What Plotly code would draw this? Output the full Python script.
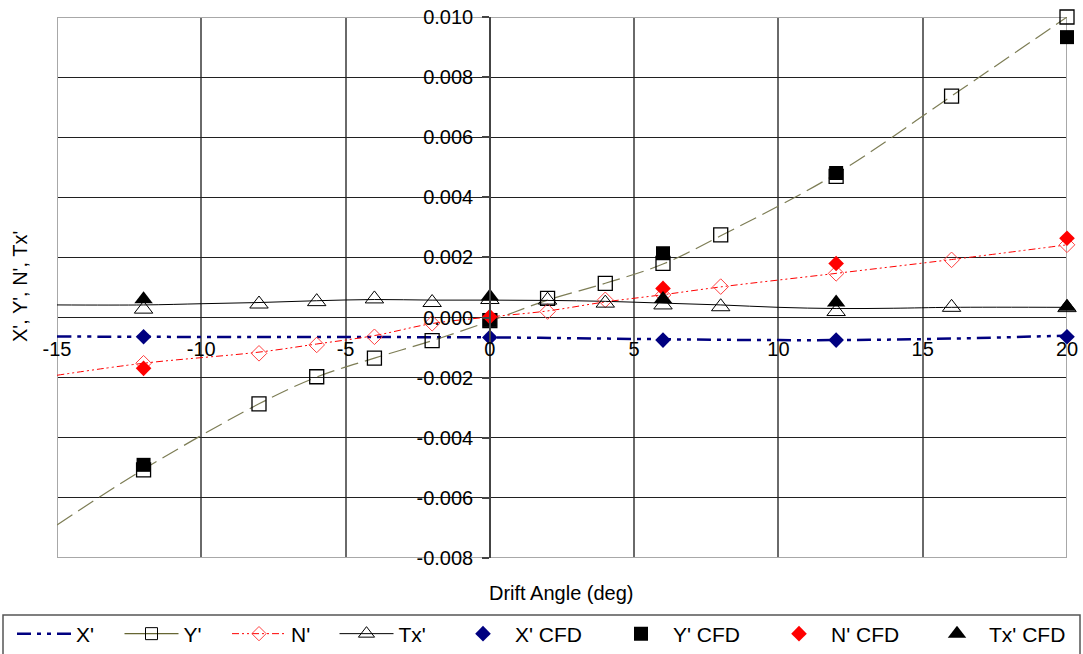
import plotly.graph_objects as go

# ---------------- data ----------------
X_TICKS = [-15, -10, -5, 0, 5, 10, 15, 20]
X_TICK_LABELS = ["-15", "-10", "-5", "0", "5", "10", "15", "20"]
Y_TICKS = [-0.008, -0.006, -0.004, -0.002, 0.0, 0.002, 0.004, 0.006, 0.008, 0.010]
Y_TICK_LABELS = ["-0.008", "-0.006", "-0.004", "-0.002", "0.000",
                 "0.002", "0.004", "0.006", "0.008", "0.010"]

# experimental (open markers)
EXP_X = [-12, -8, -6, -4, -2, 0, 2, 4, 6, 8, 12, 16, 20]
Y_EXP = [-0.00507, -0.00287, -0.00197, -0.00135, -0.00077, -0.00010, 0.00064,
         0.00114, 0.00180, 0.00275, 0.00470, 0.00737, 0.01000]
N_EXP = [-0.00152, -0.00119, -0.00091, -0.00064, -0.00019, 0.00000, 0.00020,
         0.00059, 0.00075, 0.00103, 0.00147, 0.00192, 0.00242]
TX_EXP = [0.00028, 0.00045, 0.00053, 0.00062, 0.00050, 0.00060, 0.00058,
          0.00048, 0.00042, 0.00036, 0.00020, 0.00034, 0.00033]

# experimental curves (as drawn in the reference)
X_LINE_X = [-15, -12, -8, -4, 0, 4, 8, 12, 16, 20]
X_LINE = [-0.00063, -0.00064, -0.00065, -0.00065, -0.00066, -0.00070,
          -0.00074, -0.00075, -0.00070, -0.00060]
Y_LINE_X = [-15, -12, -8, -6, -4, -2, 0, 2, 4, 6, 8, 12, 16, 20]
Y_LINE = [-0.00690, -0.00505, -0.00287, -0.00198, -0.00135, -0.00077, -0.00012,
          0.00058, 0.00114, 0.00178, 0.00272, 0.00478, 0.00737, 0.01000]
N_LINE_X = [-15, -12, -8, -6, -4, -2, 0, 2, 4, 6, 8, 12, 16, 20]
N_LINE = [-0.00192, -0.00152, -0.00115, -0.00088, -0.00060, -0.00020, 0.00002,
          0.00022, 0.00052, 0.00076, 0.00102, 0.00147, 0.00193, 0.00242]
TX_LINE_X = [-15, -12, -10, -8, -6, -4, -2, 0, 2, 4, 6, 8, 10, 12, 14, 16, 20]
TX_LINE = [0.00042, 0.00042, 0.00046, 0.00050, 0.00056, 0.00060, 0.00058,
           0.00058, 0.00057, 0.00054, 0.00048, 0.00042, 0.00034, 0.00030,
           0.00031, 0.00034, 0.00034]

# CFD (filled markers)
CFD_X = [-12, 0, 6, 12, 20]
X_CFD = [-0.00064, -0.00066, -0.00075, -0.00075, -0.00064]
Y_CFD = [-0.00490, -0.00008, 0.00214, 0.00481, 0.00933]
N_CFD = [-0.00169, 0.00003, 0.00097, 0.00180, 0.00264]
TX_CFD = [0.00061, 0.00070, 0.00062, 0.00050, 0.00036]

# ---------------- styling ----------------
FONT = "Liberation Sans, Arial, sans-serif"
NAVY = "#000080"
OLIVE = "#7d7d55"
RED = "#ff0000"
X_DASH = "14px,6px,4px,6px,4px,6px"
N_DASH = "7px,3px,2px,3px,2px,3px"
Y_DASH = "18px,7px"

fig = go.Figure()

# curves
fig.add_trace(go.Scatter(x=X_LINE_X, y=X_LINE, mode="lines", line_shape="spline",
                         line=dict(color=NAVY, width=2.5, dash=X_DASH),
                         showlegend=False, hoverinfo="skip"))
fig.add_trace(go.Scatter(x=Y_LINE_X, y=Y_LINE, mode="lines", line_shape="spline",
                         line=dict(color=OLIVE, width=1.2, dash=Y_DASH),
                         showlegend=False, hoverinfo="skip"))
fig.add_trace(go.Scatter(x=N_LINE_X, y=N_LINE, mode="lines", line_shape="spline",
                         line=dict(color=RED, width=1, dash=N_DASH),
                         showlegend=False, hoverinfo="skip"))
fig.add_trace(go.Scatter(x=TX_LINE_X, y=TX_LINE, mode="lines", line_shape="spline",
                         line=dict(color="#000000", width=1),
                         showlegend=False, hoverinfo="skip"))

# experimental markers
fig.add_trace(go.Scatter(x=EXP_X, y=Y_EXP, mode="markers", showlegend=False, cliponaxis=False,
                         marker=dict(symbol="square-open", size=14, color="#000000",
                                     line=dict(width=1.3))))
fig.add_trace(go.Scatter(x=EXP_X, y=N_EXP, mode="markers", showlegend=False, cliponaxis=False,
                         marker=dict(symbol="diamond-open", size=12, color="#ff4040",
                                     line=dict(width=1))))
fig.add_trace(go.Scatter(x=EXP_X, y=TX_EXP, mode="markers", showlegend=False, cliponaxis=False,
                         marker=dict(symbol="triangle-up-open", size=16, color="#000000",
                                     line=dict(width=1))))

# legend entries for experimental series
fig.add_trace(go.Scatter(x=[None], y=[None], mode="lines", name="X'", legend="legend",
                         line=dict(color=NAVY, width=2.5, dash=X_DASH)))
fig.add_trace(go.Scatter(x=[None], y=[None], mode="lines+markers", name="Y'", legend="legend",
                         line=dict(color="#666633", width=1.2),
                         marker=dict(symbol="square-open", size=12, color="#000000",
                                     line=dict(width=1))))
fig.add_trace(go.Scatter(x=[None], y=[None], mode="lines+markers", name="N'", legend="legend",
                         line=dict(color=RED, width=1, dash=N_DASH),
                         marker=dict(symbol="diamond-open", size=11, color="#ff4040",
                                     line=dict(width=1))))
fig.add_trace(go.Scatter(x=[None], y=[None], mode="lines+markers", name="Tx'", legend="legend",
                         line=dict(color="#000000", width=1),
                         marker=dict(symbol="triangle-up-open", size=14, color="#000000",
                                     line=dict(width=1))))

# CFD
fig.add_trace(go.Scatter(x=CFD_X, y=X_CFD, mode="markers", name="X' CFD", legend="legend2",
                         cliponaxis=False, marker=dict(symbol="diamond", size=12, color=NAVY)))
fig.add_trace(go.Scatter(x=CFD_X, y=Y_CFD, mode="markers", name="Y' CFD", legend="legend2",
                         cliponaxis=False, marker=dict(symbol="square", size=14, color="#000000")))
fig.add_trace(go.Scatter(x=CFD_X, y=N_CFD, mode="markers", name="N' CFD", legend="legend2",
                         cliponaxis=False, marker=dict(symbol="diamond", size=12, color=RED)))
fig.add_trace(go.Scatter(x=CFD_X, y=TX_CFD, mode="markers", name="Tx' CFD", legend="legend2",
                         cliponaxis=False, marker=dict(symbol="triangle-up", size=16, color="#000000")))

L, R, T, B = 57, 16, 17, 96
W, H = 1083, 654
PW, PH = W - L - R, H - T - B


def px_x(px):
    return (px - L) / PW


def px_y(py):
    return (H - B - py) / PH


fig.update_layout(
    width=W, height=H, autosize=False,
    margin=dict(l=L, r=R, t=T, b=B, autoexpand=False),
    paper_bgcolor="white", plot_bgcolor="white",
    font=dict(family=FONT, size=20, color="#000000"),
    xaxis=dict(range=[-15, 20], tickvals=X_TICKS, ticktext=X_TICK_LABELS,
               showgrid=True, gridcolor="#6a6a6a", gridwidth=1.5,
               zeroline=False, showline=False, ticks="",
               anchor="free", position=px_y(317.6), ticklabelstandoff=17,
               tickfont=dict(size=20), automargin=False),
    yaxis=dict(range=[-0.008, 0.010], tickvals=Y_TICKS, ticktext=Y_TICK_LABELS,
               showgrid=True, gridcolor="#202020", gridwidth=1,
               zeroline=False, showline=True, linecolor="#444444", linewidth=1.5,
               ticks="outside", ticklen=7, tickwidth=1.5, tickcolor="#444444",
               anchor="free", position=px_x(490), tickfont=dict(size=20),
               ticklabelstandoff=5, automargin=False),
    legend=dict(orientation="h", x=px_x(12), xanchor="left", y=px_y(634), yanchor="middle",
                font=dict(size=21), itemwidth=54, entrywidth=38.5,
                bgcolor="rgba(0,0,0,0)", borderwidth=0, tracegroupgap=0),
    legend2=dict(orientation="h", x=px_x(451), xanchor="left", y=px_y(634), yanchor="middle",
                 font=dict(size=21), itemwidth=54, entrywidth=89,
                 bgcolor="rgba(0,0,0,0)", borderwidth=0),
    shapes=[
        dict(type="rect", xref="x", yref="y", x0=-15, x1=20, y0=-0.008, y1=0.010,
             line=dict(color="#a8a8a8", width=2), layer="between"),
        dict(type="rect", xref="paper", yref="paper", x0=px_x(3), x1=px_x(1080),
             y0=px_y(662), y1=px_y(615), line=dict(color="#555555", width=1.5)),
    ],
    annotations=[
        dict(text="Drift Angle (deg)", xref="paper", yref="paper", x=px_x(561), y=px_y(593),
             xanchor="center", yanchor="middle", showarrow=False, font=dict(size=20)),
        dict(text="X', Y', N', Tx'", xref="paper", yref="paper", x=px_x(20), y=px_y(287),
             xanchor="center", yanchor="middle", showarrow=False, textangle=-90,
             font=dict(size=20)),
    ],
)

fig.write_html("out.html", config={"displayModeBar": False},
               post_script="document.body.style.margin='0';document.body.style.padding='0';"
                           "document.documentElement.style.overflow='hidden';")
